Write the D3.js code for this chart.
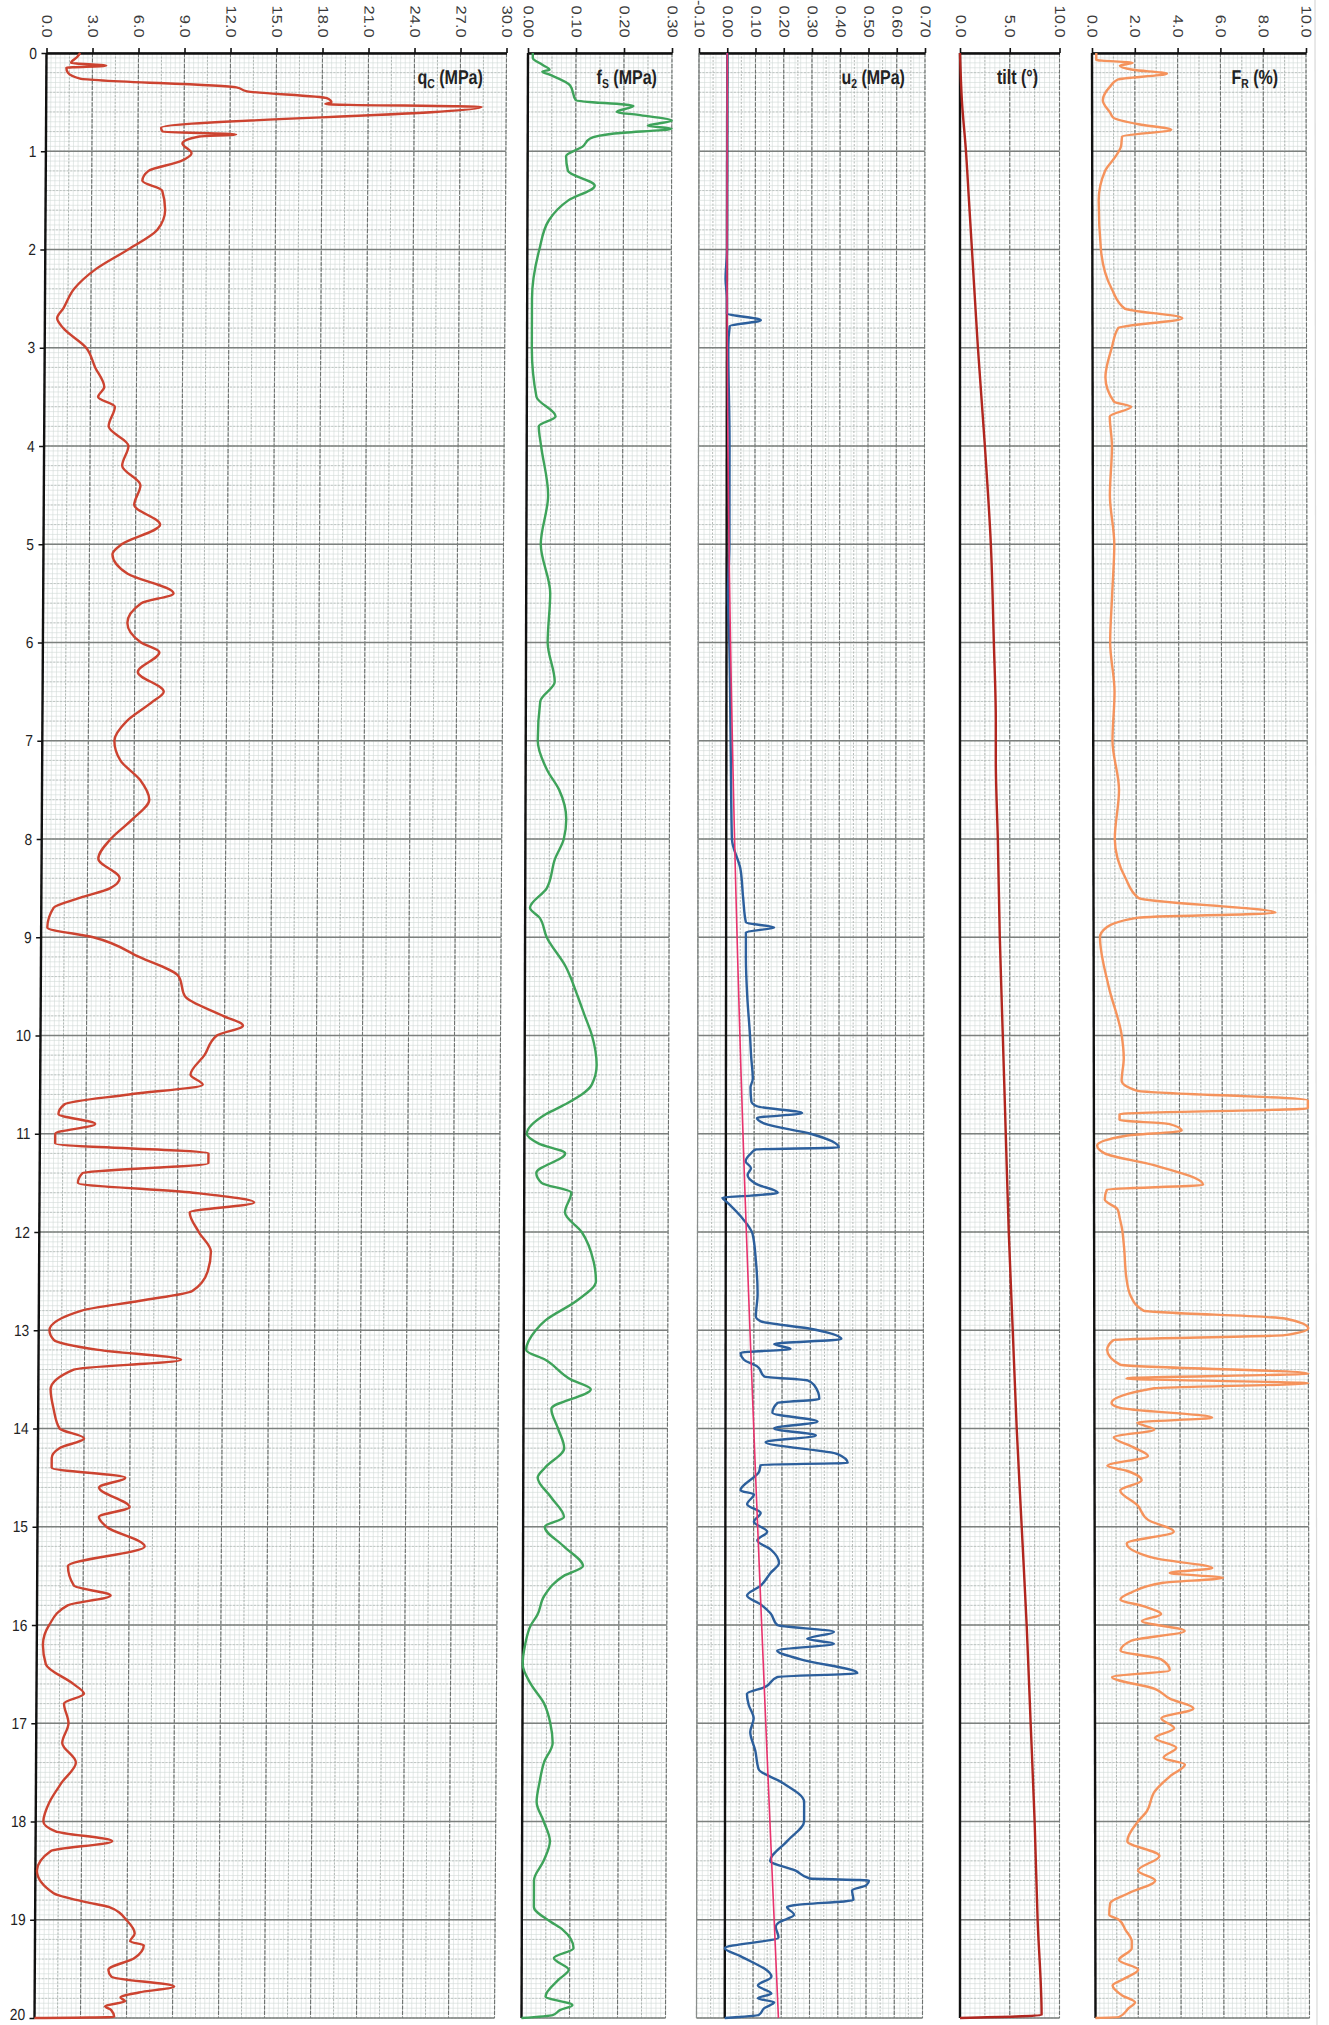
<!DOCTYPE html>
<html>
<head>
<meta charset="utf-8">
<script src="https://cdn.jsdelivr.net/npm/d3@7"></script>
<style>
  body { margin: 0; background: #fff; }
  svg { display: block; }
</style>
</head>
<body>
<svg id="chart" width="1329" height="2025"></svg>
<script>
// every series is [depth (m), value]
var qcData = [[0,2.2],[0.04,2.0],[0.1,1.6],[0.13,3.9],[0.15,1.3],[0.2,1.4],[0.26,2.2],[0.35,12.4],[0.39,13.1],[0.46,18.3],[0.5,18.6],[0.52,18.2],[0.55,28.4],[0.76,7.5],[0.8,7.6],[0.83,12.4],[0.85,10.0],[0.92,8.9],[1.02,9.5],[1.1,8.8],[1.2,6.7],[1.3,6.3],[1.4,7.6],[1.6,7.8],[1.8,7.3],[2.0,5.4],[2.2,3.3],[2.4,1.9],[2.6,1.2],[2.7,0.8],[2.8,1.2],[3.0,2.7],[3.2,3.3],[3.4,3.9],[3.5,3.5],[3.6,4.6],[3.8,4.2],[4.0,5.5],[4.2,5.1],[4.4,6.3],[4.6,5.9],[4.8,7.6],[5.0,5.1],[5.1,4.5],[5.3,5.5],[5.5,8.5],[5.6,6.4],[5.8,5.5],[6.0,6.4],[6.1,7.6],[6.3,6.2],[6.5,7.9],[6.6,7.2],[6.8,5.5],[7.0,4.7],[7.2,5.1],[7.4,6.4],[7.6,7.0],[7.8,5.9],[8.0,4.5],[8.2,3.7],[8.4,5.1],[8.5,4.5],[8.6,2.5],[8.7,0.8],[8.9,0.4],[9.0,3.4],[9.2,6.4],[9.4,9.0],[9.6,9.4],[9.8,11.9],[9.9,13.2],[10.0,11.5],[10.2,10.7],[10.4,9.8],[10.5,10.6],[10.6,5.8],[10.7,1.6],[10.8,1.2],[10.9,3.6],[11.0,1.0],[11.1,1.0],[11.2,11.0],[11.3,11.0],[11.4,2.8],[11.5,2.5],[11.6,10.0],[11.7,14.0],[11.8,9.8],[12.0,10.4],[12.2,11.2],[12.4,11.0],[12.6,10.0],[12.7,6.6],[12.8,2.8],[13.0,0.7],[13.1,1.0],[13.2,3.9],[13.3,9.3],[13.4,2.3],[13.6,0.8],[13.8,1.0],[14.0,1.4],[14.1,3.0],[14.2,1.4],[14.3,0.9],[14.4,0.9],[14.5,5.7],[14.6,4.0],[14.8,6.0],[14.9,4.0],[15.0,4.5],[15.2,7.0],[15.4,2.0],[15.6,2.4],[15.7,4.8],[15.8,2.0],[16.0,0.8],[16.2,0.4],[16.4,0.6],[16.6,2.4],[16.7,3.1],[16.8,1.8],[17.0,2.1],[17.2,1.7],[17.4,2.6],[17.6,1.7],[17.8,0.9],[18.0,0.5],[18.1,1.3],[18.2,5.0],[18.3,1.0],[18.5,0.1],[18.73,1.2],[18.82,3.3],[18.87,4.8],[19.01,6.0],[19.14,6.5],[19.22,6.2],[19.26,7.1],[19.39,6.5],[19.51,4.8],[19.58,5.0],[19.68,9.1],[19.74,6.8],[19.79,5.6],[19.83,5.9],[19.88,4.6],[19.92,5.0],[19.99,5.2],[20,0]];

var fsData = [[0,0.01],[0.05,0.01],[0.12,0.03],[0.17,0.045],[0.19,0.03],[0.22,0.045],[0.33,0.088],[0.48,0.1],[0.54,0.22],[0.6,0.185],[0.63,0.23],[0.69,0.3],[0.74,0.25],[0.77,0.3],[0.82,0.18],[0.87,0.13],[0.95,0.115],[1.05,0.08],[1.2,0.084],[1.35,0.14],[1.5,0.085],[1.7,0.045],[2.0,0.025],[2.5,0.01],[3.0,0.01],[3.5,0.02],[3.7,0.06],[3.8,0.025],[4.0,0.03],[4.5,0.045],[5.0,0.03],[5.5,0.05],[6.0,0.045],[6.4,0.06],[6.6,0.03],[7.0,0.025],[7.3,0.045],[7.5,0.07],[7.8,0.085],[8.0,0.08],[8.2,0.062],[8.5,0.045],[8.7,0.01],[8.8,0.03],[9.0,0.045],[9.3,0.085],[9.6,0.11],[9.8,0.125],[10.0,0.14],[10.3,0.15],[10.5,0.14],[10.7,0.085],[10.8,0.045],[11.0,0.005],[11.1,0.03],[11.2,0.085],[11.4,0.025],[11.5,0.036],[11.6,0.098],[11.8,0.085],[12.0,0.12],[12.3,0.145],[12.5,0.15],[12.7,0.11],[12.9,0.045],[13.0,0.025],[13.2,0.005],[13.3,0.045],[13.5,0.098],[13.6,0.14],[13.8,0.058],[14.0,0.072],[14.2,0.085],[14.4,0.045],[14.5,0.03],[14.7,0.058],[14.9,0.085],[15.0,0.045],[15.2,0.085],[15.4,0.125],[15.5,0.085],[15.7,0.045],[15.9,0.03],[16.0,0.017],[16.2,0.005],[16.4,0.0],[16.6,0.017],[16.8,0.045],[17.0,0.058],[17.2,0.063],[17.4,0.045],[17.6,0.036],[17.8,0.03],[18.0,0.045],[18.2,0.058],[18.4,0.045],[18.6,0.025],[18.87,0.025],[19.02,0.06],[19.1,0.085],[19.29,0.108],[19.39,0.067],[19.51,0.098],[19.61,0.077],[19.78,0.05],[19.87,0.106],[19.92,0.08],[19.97,0.065],[20,0]];

var u2Data = [[0,0],[1.0,0.0],[2.0,0.0],[2.3,-0.005],[2.5,0.0],[2.65,0.0],[2.72,0.12],[2.78,0.01],[3.0,0.005],[4.0,0.01],[5.0,0.01],[5.5,0.005],[6.0,0.01],[7.0,0.015],[8.0,0.02],[8.3,0.05],[8.6,0.06],[8.85,0.07],[8.9,0.17],[8.95,0.07],[9.2,0.07],[9.6,0.075],[10.0,0.085],[10.21,0.089],[10.44,0.095],[10.53,0.087],[10.67,0.09],[10.72,0.11],[10.79,0.27],[10.84,0.11],[10.9,0.14],[11.0,0.3],[11.14,0.4],[11.16,0.107],[11.2,0.089],[11.28,0.07],[11.35,0.089],[11.42,0.077],[11.51,0.107],[11.6,0.184],[11.63,0.089],[11.65,-0.012],[11.7,0.006],[11.84,0.053],[12.02,0.095],[12.3,0.107],[12.63,0.113],[12.86,0.107],[12.91,0.125],[12.98,0.29],[13.09,0.41],[13.14,0.172],[13.19,0.23],[13.23,0.053],[13.3,0.065],[13.37,0.113],[13.47,0.137],[13.51,0.29],[13.56,0.314],[13.7,0.332],[13.74,0.184],[13.84,0.166],[13.93,0.326],[14.0,0.172],[14.07,0.32],[14.14,0.142],[14.26,0.397],[14.35,0.433],[14.37,0.125],[14.44,0.119],[14.63,0.053],[14.67,0.101],[14.77,0.077],[14.86,0.125],[14.95,0.101],[15.05,0.148],[15.14,0.113],[15.23,0.16],[15.37,0.19],[15.47,0.16],[15.6,0.125],[15.7,0.077],[15.79,0.125],[15.88,0.16],[16.0,0.184],[16.07,0.385],[16.14,0.29],[16.19,0.385],[16.26,0.184],[16.35,0.267],[16.49,0.468],[16.53,0.184],[16.63,0.142],[16.7,0.077],[16.81,0.083],[16.95,0.101],[17.09,0.089],[17.28,0.107],[17.47,0.119],[17.6,0.2],[17.8,0.28],[18.0,0.28],[18.2,0.22],[18.4,0.16],[18.5,0.25],[18.58,0.3],[18.6,0.51],[18.65,0.5],[18.7,0.45],[18.8,0.455],[18.85,0.25],[18.87,0.22],[18.95,0.245],[19.03,0.19],[19.07,0.18],[19.18,0.19],[19.29,0.0],[19.37,0.055],[19.58,0.165],[19.67,0.117],[19.75,0.165],[19.8,0.117],[19.84,0.175],[19.9,0.14],[19.97,0.12],[20,0]];

var u0Data = [[0,0],[1.8,0],[20,0.19]]; // hydrostatic line

var tiltData = [[0,0],[0.5,0.2],[1,0.6],[1.5,0.9],[2,1.2],[3,1.8],[4,2.5],[5,3.1],[6,3.4],[6.8,3.6],[7.2,3.6],[8,3.8],[9,4.0],[10,4.3],[11,4.6],[12,4.9],[13,5.3],[14,5.7],[15,6.2],[16,6.7],[17,7.1],[18,7.5],[19,7.8],[19.97,8.2],[20,0]];

var frData = [[0,0.2],[0.07,0.2],[0.1,1.9],[0.13,1.3],[0.17,1.9],[0.21,3.5],[0.27,1.2],[0.34,0.85],[0.48,0.5],[0.61,0.85],[0.66,1.0],[0.73,2.3],[0.78,3.7],[0.85,1.4],[0.95,1.35],[1.05,1.1],[1.2,0.6],[1.5,0.3],[2.0,0.4],[2.4,0.9],[2.6,1.5],[2.7,4.2],[2.8,1.2],[3.0,0.9],[3.3,0.6],[3.55,1.0],[3.6,1.8],[3.7,0.8],[4.0,0.9],[4.5,0.8],[5.0,1.0],[5.5,0.9],[6.0,0.8],[6.5,1.0],[7.0,0.9],[7.5,1.2],[8.0,1.0],[8.4,1.5],[8.6,2.1],[8.75,8.5],[8.8,2.1],[8.9,0.6],[9.0,0.3],[9.5,0.7],[9.99,1.3],[10.23,1.4],[10.46,1.3],[10.56,2.0],[10.66,10],[10.74,10],[10.8,1.2],[10.86,1.2],[10.9,3.5],[10.97,4.1],[11.02,1.5],[11.12,0.15],[11.2,0.5],[11.32,2.8],[11.52,5.1],[11.57,0.6],[11.67,0.5],[11.77,1.1],[11.86,1.2],[11.96,1.3],[12.16,1.4],[12.46,1.5],[12.65,1.7],[12.8,2.3],[12.88,8.9],[12.98,10],[13.05,8.9],[13.1,0.9],[13.2,0.6],[13.35,1.2],[13.44,10],[13.49,1.5],[13.54,10],[13.59,2.8],[13.74,0.8],[13.79,1.2],[13.89,5.5],[13.94,2.0],[14.01,2.8],[14.09,0.9],[14.19,1.8],[14.28,2.5],[14.38,0.6],[14.43,1.5],[14.53,2.2],[14.63,1.2],[14.78,2.0],[14.93,2.5],[15.05,3.7],[15.17,1.5],[15.32,2.8],[15.42,5.5],[15.47,3.5],[15.52,6.0],[15.57,3.2],[15.67,1.7],[15.74,1.2],[15.81,2.3],[15.89,3.1],[15.96,2.2],[16.06,4.2],[16.16,1.7],[16.26,1.2],[16.35,3.1],[16.46,3.5],[16.53,0.8],[16.65,2.8],[16.75,3.5],[16.85,4.6],[16.95,3.1],[17.05,3.7],[17.15,2.8],[17.25,3.8],[17.35,3.2],[17.42,4.2],[17.54,3.5],[17.69,2.8],[17.9,2.4],[18.0,2.0],[18.2,1.5],[18.35,3.0],[18.5,2.0],[18.6,2.8],[18.73,1.55],[18.83,0.7],[18.95,0.65],[19.0,1.1],[19.1,1.4],[19.22,1.7],[19.29,1.7],[19.41,1.1],[19.51,2.0],[19.61,1.25],[19.67,0.8],[19.77,1.25],[19.84,1.85],[19.9,1.55],[19.99,1.1],[20,0]];

var depthTicks = d3.range(0, 21);
var qcTicks = [0, 3, 6, 9, 12, 15, 18, 21, 24, 27, 30];
var fsTicks = [0, 0.1, 0.2, 0.3];
var u2Ticks = [-0.1, 0, 0.1, 0.2, 0.3, 0.4, 0.5, 0.6, 0.7];
var tiltTicks = [0, 5, 10];
var frTicks = [0, 2, 4, 6, 8, 10];

var TOP = 53, H = 1965;
var SANS = "'Liberation Sans', Arial, sans-serif";

var svg = d3.select("#chart");
var y = d3.scaleLinear().domain([0, 20]).range([0, H]);

function hyphen(f) {
  return function(d) { return d3.format(f)(d).replace("\u2212", "-"); };
}
function steps(domain, step) {
  var n = Math.round((domain[1] - domain[0]) / step);
  return d3.range(n + 1).map(function(i) { return domain[0] + i * step; });
}

// layout of the five strips (the scan is a little skewed, so each strip leans a bit)
var panels = [
  { title: ["q", "C", " (MPa)"], domain: [0, 30], ticks: qcTicks, fmt: hyphen(".1f"), medium: 1.5, minor: 0.3,
    left: 46.5, width: 460, shift: -12, titleEnd: 483, depthAxis: true,
    series: [{ data: qcData, color: "#cc4330" }] },
  { title: ["f", "S", " (MPa)"], domain: [0, 0.3], ticks: fsTicks, fmt: hyphen(".2f"), medium: 0.05, minor: 0.01,
    left: 528, width: 144, shift: -6.5, titleEnd: 657,
    series: [{ data: fsData, color: "#3ea35a" }] },
  { title: ["u", "2", " (MPa)"], domain: [-0.1, 0.7], ticks: u2Ticks, fmt: hyphen(".2f"), medium: 0.05, minor: 0.02,
    left: 699, width: 226, shift: -2.5, titleEnd: 905, zeroLine: true,
    series: [{ data: u2Data, color: "#2c5f9c" }, { data: u0Data, color: "#e8336d", width: 1.6 }] },
  { title: ["tilt (\u00b0)", "", ""], domain: [0, 10], ticks: tiltTicks, fmt: hyphen(".1f"), medium: 2.5, minor: 0.5,
    left: 960, width: 99.5, shift: 0, titleEnd: 1038,
    series: [{ data: tiltData, color: "#b1261f" }] },
  { title: ["F", "R", " (%)"], domain: [0, 10], ticks: frTicks, fmt: hyphen(".1f"), medium: 1, minor: 0.2,
    left: 1092, width: 214, shift: 3.5, titleEnd: 1278,
    series: [{ data: frData, color: "#f5935c" }] }
];

panels.forEach(function(p) {
  var x = d3.scaleLinear().domain(p.domain).range([0, p.width]);
  var skew = Math.atan(p.shift / H) * 180 / Math.PI;
  var g = svg.append("g")
    .attr("transform", "translate(" + p.left + "," + TOP + ") skewX(" + skew + ")");

  // fine graph-paper grid
  var grid = g.append("g");
  grid.selectAll(".minx").data(steps(p.domain, p.minor)).enter().append("line")
    .attr("x1", x).attr("x2", x).attr("y1", 0).attr("y2", H)
    .attr("stroke", "#d2dad6").attr("stroke-width", 0.6);
  grid.selectAll(".miny").data(steps([0, 20], 0.05)).enter().append("line")
    .attr("x1", 0).attr("x2", p.width).attr("y1", y).attr("y2", y)
    .attr("stroke", "#d2dad6").attr("stroke-width", 0.6);
  grid.selectAll(".medx").data(steps(p.domain, p.medium)).enter().append("line")
    .attr("x1", x).attr("x2", x).attr("y1", 0).attr("y2", H)
    .attr("stroke", "#a3aaa6").attr("stroke-width", 0.8).attr("stroke-dasharray", "2,1.5");
  grid.selectAll(".medy").data(steps([0, 20], 0.2)).enter().append("line")
    .attr("x1", 0).attr("x2", p.width).attr("y1", y).attr("y2", y)
    .attr("stroke", "#aeb4b1").attr("stroke-width", 0.7).attr("stroke-dasharray", "2,1.5");
  grid.selectAll(".majx").data(p.ticks).enter().append("line")
    .attr("x1", x).attr("x2", x).attr("y1", 0).attr("y2", H)
    .attr("stroke", "#6f7371").attr("stroke-width", 1.1).attr("stroke-dasharray", "4,1.5");
  grid.selectAll(".majy").data(depthTicks).enter().append("line")
    .attr("x1", 0).attr("x2", p.width).attr("y1", y).attr("y2", y)
    .attr("stroke", "#7c807e").attr("stroke-width", 1.5);

  // left frame: black axis line, except u2 where the black line sits at zero
  if (p.zeroLine) {
    g.append("line").attr("x1", 0).attr("x2", 0).attr("y1", 0).attr("y2", H)
      .attr("stroke", "#8a8e8c").attr("stroke-width", 1.2);
    g.append("line").attr("x1", x(0)).attr("x2", x(0)).attr("y1", 0).attr("y2", H)
      .attr("stroke", "#111").attr("stroke-width", 2.4);
  } else {
    g.append("line").attr("x1", 0).attr("x2", 0).attr("y1", 0).attr("y2", H)
      .attr("stroke", "#111").attr("stroke-width", 2.4);
  }

  // top axis with rotated labels
  var top = g.append("g")
    .call(d3.axisTop(x).tickValues(p.ticks).tickSize(5).tickSizeOuter(0).tickFormat(p.fmt));
  top.select(".domain").attr("stroke", "#111").attr("stroke-width", 2.4);
  top.selectAll(".tick line").attr("stroke", "#111").attr("stroke-width", 1.6);
  top.selectAll(".tick text")
    .attr("transform", "rotate(90) scale(1.18,1)")
    .attr("x", -13).attr("y", 0).attr("dy", "0.35em")
    .attr("text-anchor", "end")
    .attr("font-family", SANS).attr("font-size", "14px").attr("fill", "#3a3a3a");

  if (p.depthAxis) {
    var ax = g.append("g")
      .call(d3.axisLeft(y).tickValues(depthTicks).tickSize(5).tickSizeOuter(0).tickPadding(6));
    ax.select(".domain").remove();
    ax.selectAll(".tick line").attr("stroke", "#111").attr("stroke-width", 1.6);
    ax.selectAll(".tick text")
      .attr("transform", "scale(0.86,1)")
      .attr("dy", function(d) { return d === 20 ? "0.12em" : "0.32em"; })
      .attr("font-family", SANS).attr("font-size", "16px").attr("fill", "#222");
  }

  // curves
  var line = d3.line()
    .x(function(d) { return x(d[1]); })
    .y(function(d) { return y(d[0]); })
    .curve(d3.curveMonotoneY);
  p.series.forEach(function(s) {
    g.append("path").datum(s.data)
      .attr("d", line)
      .attr("fill", "none")
      .attr("stroke", s.color)
      .attr("stroke-width", s.width || 2.4)
      .attr("stroke-linejoin", "round");
  });

  // strip title, condensed bold
  var t = g.append("text")
    .attr("transform", "translate(" + (p.titleEnd - p.left) + ",31) scale(0.8,1)")
    .attr("text-anchor", "end")
    .attr("font-family", SANS).attr("font-weight", "bold")
    .attr("font-size", "20px").attr("fill", "#222");
  t.append("tspan").text(p.title[0]);
  if (p.title[1]) {
    t.append("tspan").attr("dy", 4).attr("font-size", "13px").text(p.title[1]);
    t.append("tspan").attr("dy", -4).text(p.title[2]);
  }
});

// faint edge of the scanned page
svg.append("line").attr("x1", 1315).attr("x2", 1317).attr("y1", 0).attr("y2", 2025)
  .attr("stroke", "#d9d9d9").attr("stroke-width", 1.2);
</script>
</body>
</html>
